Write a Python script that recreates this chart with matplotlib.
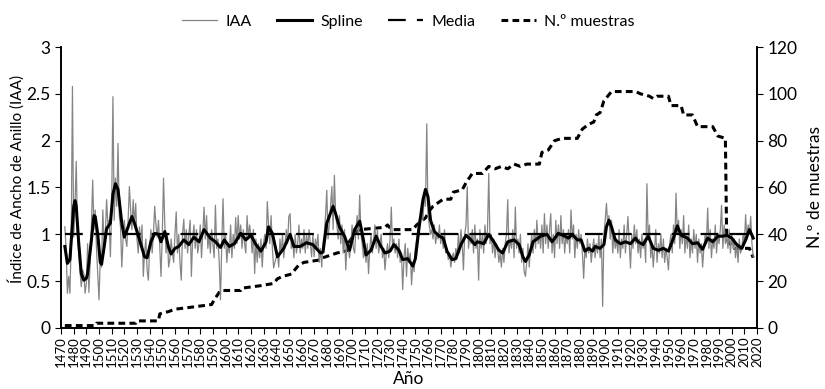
import numpy as np
import matplotlib.pyplot as plt

plt.rcParams['font.family'] = ['Lato', 'DejaVu Sans']

# Indice de ancho de anillo, un valor por año desde 1473
iaa_start = 1473
iaa_vals = [
    1.08, 0.85, 0.37, 0.55, 0.37, 0.90, 2.58,                    # 1473-1479
    0.97, 1.30, 1.78, 1.00, 0.80, 0.60, 0.44, 0.62, 0.58, 0.37,  # 1480
    0.48, 0.90, 0.38, 0.70, 1.10, 1.58, 1.05, 1.26, 0.85, 0.58,  # 1490
    0.30, 0.75, 0.65, 1.26, 0.90, 1.01, 1.37, 1.10, 1.15, 0.76,  # 1500
    1.30, 2.47, 1.15, 1.60, 1.30, 1.97, 1.20, 1.08, 0.65, 0.95,  # 1510
    1.15, 0.95, 0.87, 1.15, 1.51, 1.26, 1.05, 1.37, 1.10, 1.33,  # 1520
    0.95, 0.80, 1.08, 0.90, 1.10, 0.55, 0.80, 0.95, 0.62, 0.51,  # 1530
    0.85, 1.05, 0.80, 1.00, 1.30, 1.10, 0.97, 1.15, 0.87, 0.55,  # 1540
    1.00, 1.60, 1.10, 0.80, 1.00, 0.65, 0.73, 0.95, 0.80, 0.70,  # 1550
    1.00, 1.24, 0.80, 1.00, 0.70, 0.51, 1.00, 1.16, 0.85, 1.05,  # 1560
    0.80, 1.00, 1.15, 0.55, 0.95, 1.10, 0.85, 1.05, 0.80, 0.90,  # 1570
    1.10, 0.75, 1.00, 1.29, 0.95, 1.20, 0.85, 1.00, 0.80, 1.05,  # 1580
    0.90, 0.75, 1.31, 0.85, 0.95, 0.70, 0.30, 0.90, 1.38, 0.85,  # 1590
    1.00, 0.70, 0.90, 0.80, 1.10, 0.75, 1.00, 0.85, 1.18, 0.90,  # 1600
    1.20, 0.95, 1.10, 0.85, 1.05, 0.90, 0.80, 1.20, 0.95, 1.10,  # 1610
    1.00, 0.80, 1.05, 0.58, 0.95, 0.70, 0.90, 0.75, 0.95, 0.65,  # 1620
    0.90, 1.00, 0.85, 1.35, 1.10, 0.90, 1.20, 0.85, 0.64, 0.70,  # 1630
    0.75, 0.80, 0.65, 0.95, 0.80, 1.00, 0.75, 0.90, 1.05, 0.90,  # 1640
    1.19, 1.22, 0.85, 0.95, 0.75, 1.00, 0.80, 0.90, 1.10, 0.80,  # 1650
    0.95, 0.85, 1.05, 0.80, 1.00, 0.85, 1.05, 0.90, 0.76, 1.00,  # 1660
    0.76, 0.95, 0.85, 1.00, 0.70, 0.85, 0.65, 0.90, 1.00, 1.20,  # 1670
    1.47, 0.95, 1.10, 1.30, 1.51, 1.05, 1.63, 1.20, 1.10, 0.95,  # 1680
    1.20, 0.90, 1.10, 0.80, 1.05, 0.62, 0.90, 0.85, 0.75, 0.90,  # 1690
    1.10, 0.85, 0.80, 1.05, 1.20, 0.95, 1.42, 1.00, 0.90, 0.75,  # 1700
    0.85, 0.70, 0.90, 0.58, 0.85, 1.00, 0.80, 0.95, 1.10, 0.85,  # 1710
    1.05, 0.80, 0.90, 1.00, 0.75, 0.85, 0.62, 0.80, 0.90, 0.75,  # 1720
    0.95, 1.29, 0.85, 0.95, 0.80, 0.90, 0.75, 0.95, 0.70, 0.80,  # 1730
    0.41, 0.75, 0.90, 0.55, 0.85, 0.70, 0.80, 0.46, 0.70, 0.60,  # 1740
    0.85, 0.95, 1.05, 1.15, 1.20, 1.30, 1.15, 1.45, 1.30, 2.18,  # 1750
    1.20, 1.10, 1.00, 1.05, 0.95, 1.10, 0.90, 1.00, 0.95, 1.10,  # 1760
    0.90, 1.00, 0.85, 1.05, 0.80, 0.85, 0.73, 0.80, 0.65, 0.75,  # 1770
    0.80, 0.70, 0.85, 0.75, 1.00, 0.80, 1.05, 0.90, 0.62, 1.00,  # 1780
    1.10, 1.51, 0.85, 1.00, 0.90, 1.05, 0.80, 1.10, 0.85, 0.95,  # 1790
    0.51, 1.05, 0.85, 1.00, 0.80, 1.10, 0.90, 1.05, 1.65, 0.90,  # 1800
    1.00, 0.80, 0.95, 0.75, 0.90, 0.85, 0.70, 0.80, 0.65, 0.85,  # 1810
    0.70, 0.90, 1.00, 1.37, 0.80, 0.95, 0.85, 1.05, 0.75, 1.29,  # 1820
    0.85, 0.95, 0.80, 1.00, 0.70, 0.85, 0.60, 0.55, 0.70, 0.90,  # 1830
    0.65, 0.85, 1.00, 0.80, 1.05, 0.85, 1.15, 0.90, 1.00, 0.85,  # 1840
    1.10, 0.80, 1.22, 0.90, 1.10, 0.85, 1.05, 1.22, 0.80, 1.00,  # 1850
    0.75, 1.15, 0.90, 1.10, 0.85, 1.20, 0.90, 1.05, 0.80, 1.00,  # 1860
    0.90, 1.05, 0.80, 1.26, 0.95, 1.10, 0.75, 1.00, 0.85, 1.05,  # 1870
    0.90, 1.00, 0.80, 0.53, 0.85, 0.75, 0.95, 0.80, 0.90, 0.70,  # 1880
    0.85, 0.95, 0.75, 0.90, 0.80, 1.00, 0.75, 0.95, 0.23, 1.00,  # 1890
    1.15, 1.33, 1.10, 1.20, 0.95, 1.15, 0.80, 1.00, 0.85, 0.95,  # 1900
    0.80, 1.05, 0.75, 0.95, 0.85, 1.10, 0.80, 1.00, 1.19, 0.90,  # 1910
    0.64, 1.00, 0.85, 1.10, 0.90, 1.05, 0.80, 0.95, 0.75, 1.00,  # 1920
    0.85, 0.95, 0.70, 1.54, 0.95, 1.10, 0.75, 0.90, 0.65, 0.85,  # 1930
    1.05, 0.70, 0.90, 0.80, 1.00, 0.75, 0.95, 0.70, 0.85, 0.75,  # 1940
    0.62, 0.90, 1.00, 0.80, 1.10, 0.90, 1.44, 1.00, 1.15, 0.85,  # 1950
    1.05, 0.90, 1.20, 0.80, 1.00, 0.85, 1.10, 0.75, 0.95, 0.80,  # 1960
    1.05, 0.85, 1.00, 0.70, 0.95, 0.80, 0.90, 0.65, 0.85, 1.00,  # 1970
    0.90, 1.28, 0.85, 1.05, 0.75, 0.95, 0.85, 1.10, 0.80, 1.00,  # 1980
    0.90, 1.05, 1.31, 0.85, 1.10, 0.90, 1.00, 0.85, 1.05, 0.80,  # 1990
    1.00, 0.85, 0.95, 0.75, 0.90, 0.70, 0.95, 0.80, 0.85, 1.00,  # 2000
    0.90, 1.21, 0.95, 1.10, 1.00, 1.19, 0.90, 0.76,              # 2010-2017
]
iaa_years = np.arange(iaa_start, iaa_start + len(iaa_vals))

spline_years = [1473, 1475, 1477, 1479, 1480, 1481, 1482, 1484, 1486, 1488, 1490, 1491,
                1494, 1496, 1497, 1499, 1501, 1502, 1504, 1506, 1509, 1511, 1513, 1515,
                1518, 1520, 1523, 1526, 1528, 1532, 1536, 1538, 1541, 1544, 1547, 1549,
                1552, 1555, 1557, 1560, 1563, 1567, 1571, 1575, 1579, 1583, 1588, 1592,
                1596, 1599, 1603, 1607, 1612, 1616, 1620, 1624, 1628, 1632, 1634, 1637,
                1641, 1646, 1651, 1654, 1659, 1664, 1669, 1675, 1677, 1680, 1685, 1687,
                1690, 1694, 1698, 1702, 1706, 1708, 1711, 1715, 1719, 1722, 1726, 1730,
                1733, 1737, 1740, 1744, 1746, 1748, 1750, 1753, 1756, 1758, 1760, 1762,
                1765, 1769, 1772, 1775, 1779, 1782, 1786, 1790, 1794, 1797, 1799, 1804,
                1808, 1812, 1816, 1819, 1823, 1828, 1832, 1835, 1837, 1840, 1843, 1849,
                1854, 1858, 1863, 1868, 1871, 1874, 1878, 1881, 1884, 1887, 1890, 1892,
                1896, 1899, 1901, 1903, 1905, 1908, 1912, 1916, 1920, 1924, 1926, 1930,
                1934, 1938, 1942, 1946, 1950, 1954, 1957, 1960, 1965, 1969, 1973, 1977,
                1981, 1985, 1989, 1993, 1996, 2000, 2004, 2008, 2011, 2014, 2017]
spline_vals = [0.87, 0.69, 0.73, 1.10, 1.30, 1.36, 1.30, 0.90, 0.58, 0.51, 0.53, 0.58,
               0.94, 1.20, 1.19, 1.00, 0.70, 0.68, 0.86, 1.06, 1.12, 1.43, 1.54, 1.48,
               1.12, 0.97, 1.08, 1.19, 1.12, 0.94, 0.76, 0.75, 0.92, 1.01, 1.00, 0.92,
               1.03, 0.86, 0.79, 0.85, 0.87, 0.94, 0.89, 0.97, 0.92, 1.05, 0.96, 0.92,
               0.86, 0.94, 0.87, 0.90, 1.01, 0.94, 0.99, 0.89, 0.82, 0.92, 1.08, 1.01,
               0.76, 0.85, 1.00, 0.87, 0.87, 0.91, 0.89, 0.80, 0.81, 1.12, 1.30, 1.22,
               1.08, 0.98, 0.83, 1.05, 1.14, 1.01, 0.78, 0.83, 0.98, 0.89, 0.80, 0.82,
               0.89, 0.83, 0.73, 0.74, 0.70, 0.66, 0.74, 1.08, 1.37, 1.48, 1.40, 1.15,
               1.03, 0.98, 0.96, 0.82, 0.73, 0.74, 0.89, 0.99, 0.94, 0.89, 0.92, 0.90,
               1.00, 0.92, 0.83, 0.80, 0.92, 0.94, 0.89, 0.76, 0.71, 0.78, 0.92, 0.98,
               1.00, 0.92, 1.01, 0.98, 0.96, 1.00, 0.94, 0.94, 0.82, 0.85, 0.82, 0.87,
               0.85, 0.89, 1.08, 1.15, 1.08, 0.94, 0.90, 0.92, 0.90, 0.96, 0.92, 0.89,
               0.98, 0.85, 0.83, 0.85, 0.82, 0.96, 1.09, 0.99, 0.96, 0.90, 0.91, 0.84,
               0.96, 0.92, 0.98, 0.98, 0.99, 0.96, 0.89, 0.85, 0.94, 1.05, 0.96]

media = 1.0

# numero de muestras (años de cambio)
n_years = [1473, 1497, 1498, 1529, 1530, 1547, 1548, 1555, 1560, 1575, 1589, 1591,
           1596, 1612, 1613, 1627, 1638, 1641, 1645, 1652, 1658, 1662, 1674, 1677,
           1688, 1696, 1698, 1703, 1706, 1726, 1728, 1731, 1748, 1751, 1758, 1761,
           1764, 1772, 1778, 1780, 1787, 1790, 1795, 1803, 1808, 1813, 1818, 1823,
           1828, 1833, 1838, 1848, 1850, 1855, 1860, 1866, 1878, 1882, 1887, 1891,
           1893, 1896, 1899, 1902, 1905, 1924, 1928, 1935, 1938, 1941, 1950, 1952,
           1960, 1962, 1969, 1973, 1985, 1989, 1995, 1996, 1997, 2002, 2014, 2017]
n_vals = [1, 1, 2, 2, 3, 3, 6, 7, 8, 9, 10, 12,
          16, 16, 17, 18, 19, 21, 22, 23, 27, 28, 29, 30,
          32, 33, 37, 41, 42, 43, 44, 42, 42, 44, 47, 50,
          52, 55, 55, 58, 59, 62, 66, 66, 69, 68, 69, 68,
          70, 69, 70, 70, 75, 76, 80, 81, 81, 85, 87, 88,
          91, 92, 97, 99, 101, 101, 100, 99, 98, 99, 99, 95,
          95, 91, 91, 86, 86, 82, 81, 39, 37, 34, 34, 30]

fig, ax = plt.subplots(figsize=(8.25, 3.89), dpi=100)
fig.subplots_adjust(left=0.074, right=0.9176, bottom=0.157, top=0.879)
ax2 = ax.twinx()

l1, = ax.plot(iaa_years, iaa_vals, color='#858585', lw=0.9, label='IAA')
l2, = ax.plot(spline_years, spline_vals, color='black', lw=2.2, label='Spline')
l3, = ax.plot([iaa_years[0], iaa_years[-1]], [media, media], color='black', lw=1.6,
              dashes=(8, 5), label='Media')
l4, = ax2.plot(n_years, n_vals, color='black', lw=2.2, dashes=(2.2, 1.4),
               label='N.º muestras')
ax.set_zorder(ax2.get_zorder() + 1)
ax.patch.set_visible(False)

ax.set_xlim(1470, 2020)
ax.set_ylim(0, 3)
ax2.set_ylim(0, 120)
ax.set_yticks([0, 0.5, 1, 1.5, 2, 2.5, 3])
ax.set_yticklabels(['0', '0.5', '1', '1.5', '2', '2.5', '3'])
ax2.set_yticks(range(0, 121, 20))
ax.set_xticks(range(1470, 2021, 10))
ax.tick_params(axis='x', labelrotation=90, labelsize=9.5, length=4, pad=2)
ax.tick_params(axis='y', labelsize=12.5, length=4)
ax2.tick_params(axis='y', labelsize=12.5, length=4)

for a in (ax, ax2):
    a.spines['top'].set_visible(False)
    for s in ('left', 'right', 'bottom'):
        a.spines[s].set_linewidth(1.2)

ax.set_xlabel('Año', fontsize=12.5, labelpad=3)
ax.set_ylabel('Índice de Ancho de Anillo (IAA)', fontsize=11, labelpad=5)
ax.yaxis.set_label_coords(-0.052, 0.53)
ax2.set_ylabel('N.º de muestras', fontsize=12.5, labelpad=7)

fig.legend(handles=[l1, l2, l3, l4], loc='upper center', bbox_to_anchor=(0.495, 1.0),
           ncol=4, frameon=False, fontsize=11.5, handlelength=2.2, columnspacing=1.6,
           handletextpad=0.5)

fig.savefig('out.png', dpi=100)
